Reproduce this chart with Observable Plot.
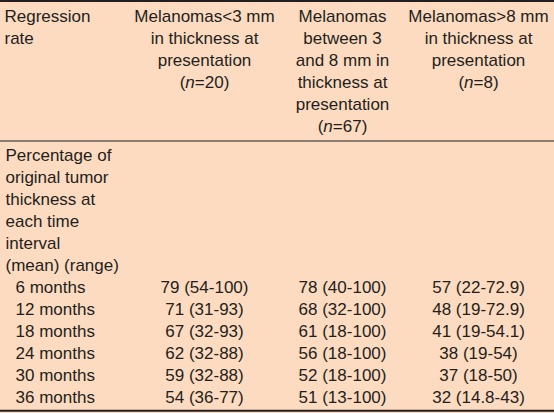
<!DOCTYPE html>
<html>
<head>
<meta charset="utf-8">
<script src="https://cdn.jsdelivr.net/npm/d3@7"></script>
<script src="https://cdn.jsdelivr.net/npm/@observablehq/plot@0.6"></script>
<style>
  html, body { margin: 0; padding: 0; background: #fddbc1; }
  #chart svg { display: block; }
</style>
</head>
<body>
<div id="chart"></div>
<script>
// ---- data ----
const headers = [
  "Regression\nrate",
  "Melanomas<3 mm\nin thickness at\npresentation\n(n=20)",
  "Melanomas\nbetween 3\nand 8 mm in\nthickness at\npresentation\n(n=67)",
  "Melanomas>8 mm\nin thickness at\npresentation\n(n=8)"
];
const sectionLabel = "Percentage of\noriginal tumor\nthickness at\neach time\ninterval\n(mean) (range)";
const intervals = ["6 months", "12 months", "18 months", "24 months", "30 months", "36 months"];
const under3mm = ["79 (54-100)", "71 (31-93)", "67 (32-93)", "62 (32-88)", "59 (32-88)", "54 (36-77)"];
const between3and8mm = ["78 (40-100)", "68 (32-100)", "61 (18-100)", "56 (18-100)", "52 (18-100)", "51 (13-100)"];
const over8mm = ["57 (22-72.9)", "48 (19-72.9)", "41 (19-54.1)", "38 (19-54)", "37 (18-50)", "32 (14.8-43)"];

// ---- table layout built from the arrays ----
const headerLines = headers.flatMap((h, c) => h.split("\n").map((t, r) => ({c, r, t})));
const sectionLines = sectionLabel.split("\n").map((t, r) => ({c: 0, r: 6 + r, t}));
const firstDataRow = 6 + sectionLabel.split("\n").length;
const rowLabels = intervals.map((t, i) => ({c: 0, r: firstDataRow + i, t}));
const cells = [under3mm, between3and8mm, over8mm].flatMap((col, ci) =>
  col.map((t, i) => ({c: ci + 1, r: firstDataRow + i, t})));
const lastRow = firstDataRow + intervals.length - 1;

const chart = Plot.plot({
  width: 554,
  height: 413,
  margin: 0,
  style: {background: "#fddbc1", fontSize: "17px", fontFamily: "'Liberation Sans', Arial, sans-serif", color: "#231f20"},
  x: {type: "linear", domain: [0, 1, 2, 3], range: [4, 204, 342, 478], axis: null},
  y: {type: "linear", domain: [0, 5, 6, lastRow], range: [16, 126, 155, 397], axis: null},
  marks: [
    Plot.ruleY([-0.7], {stroke: "#231f20", strokeWidth: 2}),
    Plot.ruleY([5.5], {stroke: "#231f20", strokeWidth: 1.2}),
    Plot.ruleY([lastRow + 0.6], {stroke: "#231f20", strokeWidth: 2}),
    Plot.text(headerLines.filter(d => d.c === 0), {x: "c", y: "r", text: "t", textAnchor: "start", fill: "#231f20"}),
    Plot.text(headerLines.filter(d => d.c > 0), {x: "c", y: "r", text: "t", textAnchor: "middle", fill: "#231f20"}),
    Plot.text(sectionLines, {x: "c", y: "r", text: "t", textAnchor: "start", dx: 1, fill: "#231f20"}),
    Plot.text(rowLabels, {x: "c", y: "r", text: "t", textAnchor: "start", dx: 11, fill: "#231f20"}),
    Plot.text(cells, {x: "c", y: "r", text: "t", textAnchor: "middle", fill: "#231f20"})
  ]
});

// italicise the "n" in "(n=..)"
chart.querySelectorAll("text, tspan").forEach(el => {
  if (el.children.length) return;
  const m = /^\(n=(\d+)\)$/.exec(el.textContent);
  if (m) {
    el.textContent = "";
    const ns = "http://www.w3.org/2000/svg";
    const a = document.createElementNS(ns, "tspan"); a.textContent = "(";
    const b = document.createElementNS(ns, "tspan"); b.textContent = "n"; b.setAttribute("font-style", "italic");
    const c = document.createElementNS(ns, "tspan"); c.textContent = "=" + m[1] + ")";
    el.append(a, b, c);
  }
});

document.getElementById("chart").append(chart);
</script>
</body>
</html>
